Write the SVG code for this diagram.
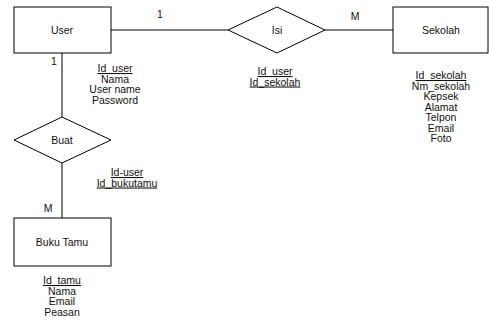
<svg xmlns="http://www.w3.org/2000/svg" width="489" height="320" viewBox="0 0 489 320">
<style>
.shape{fill:#fff;stroke:#000;stroke-width:1}
.conn line{stroke:#000;stroke-width:1}
text{font-family:"Liberation Sans",Arial,sans-serif;font-size:10.5px;fill:#111;text-anchor:middle}
.key{text-decoration:underline}
</style>
<rect width="489" height="320" fill="#fff"/>
<g id="connectors" class="conn">
<line x1="111" y1="30" x2="228" y2="30"/>
<line x1="325" y1="30" x2="393" y2="30"/>
<line x1="62" y1="53" x2="62" y2="117"/>
<line x1="62" y1="163" x2="62" y2="218"/>
<text x="160" y="18">1</text>
<text x="355" y="20">M</text>
<text x="54" y="65">1</text>
<text x="48" y="212">M</text>
</g>
<g id="user">
<rect class="shape" x="14" y="7" width="97" height="46"/>
<text x="62" y="34">User</text>
<text class="key" x="115" y="72">Id_user</text>
<text x="115" y="82.5">Nama</text>
<text x="115" y="93">User name</text>
<text x="115" y="103.5">Password</text>
</g>
<g id="isi">
<polygon class="shape" points="228,30 277,7 325,30 277,53"/>
<text x="277" y="34">Isi</text>
<text class="key" x="275" y="75">Id_user</text>
<text class="key" x="275" y="85.5">Id_sekolah</text>
</g>
<g id="sekolah">
<rect class="shape" x="393" y="7" width="95" height="46"/>
<text x="441" y="34">Sekolah</text>
<text class="key" x="441" y="79">Id_sekolah</text>
<text x="441" y="89.5">Nm_sekolah</text>
<text x="441" y="100">Kepsek</text>
<text x="441" y="110.5">Alamat</text>
<text x="441" y="121">Telpon</text>
<text x="441" y="131.5">Email</text>
<text x="441" y="142">Foto</text>
</g>
<g id="buat">
<polygon class="shape" points="14,140 62,117 111,140 62,163"/>
<text x="62" y="144">Buat</text>
<text class="key" x="127" y="176">Id-user</text>
<text class="key" x="127" y="186.5">Id_bukutamu</text>
</g>
<g id="bukutamu">
<rect class="shape" x="14" y="218" width="97" height="48"/>
<text x="62" y="246">Buku Tamu</text>
<text class="key" x="62" y="284">Id_tamu</text>
<text x="62" y="294.5">Nama</text>
<text x="62" y="305">Email</text>
<text x="62" y="315.5">Peasan</text>
</g>
</svg>
